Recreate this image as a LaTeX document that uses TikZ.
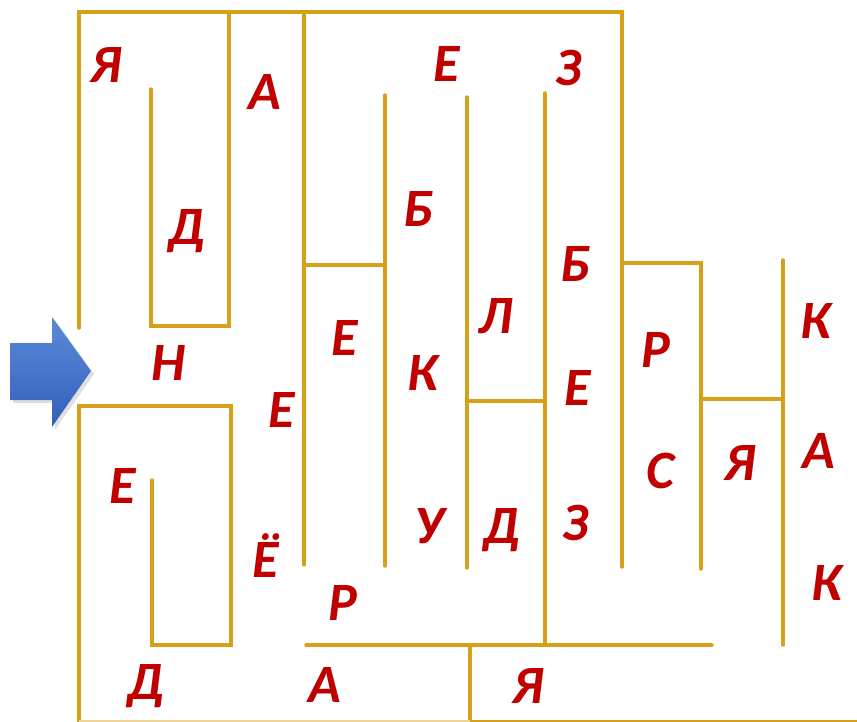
\documentclass[tikz,border=0pt]{standalone}
\usepackage{fontspec}
\setmainfont{Carlito}
\usetikzlibrary{shadows}
\definecolor{mazegold}{RGB}{214,160,24}
\definecolor{letterred}{RGB}{192,0,0}
\definecolor{arrowtop}{RGB}{92,138,216}
\definecolor{arrowbot}{RGB}{50,96,186}
\begin{document}
\begin{tikzpicture}[x=1pt, y=-1pt,
    wall/.style={draw=mazegold, line width=3.4pt, line cap=round, line join=miter},
    letter/.style={text=letterred, anchor=base, inner sep=0pt,
      font=\fontsize{54}{54}\selectfont\bfseries\itshape}]
            \useasboundingbox (0,0) rectangle (857,722);

            % Entrance arrow
            \shade [top color=arrowtop, bottom color=arrowbot,
                    drop shadow={shadow xshift=3pt, shadow yshift=-3pt, opacity=0.25}]
              (10,343) -- (52,343) -- (52,317) -- (91,371) -- (52,427)
              -- (52,400) -- (10,400) -- cycle;

            % Outer frame, upper part
            \draw [wall] (79,328) -- (79,12) -- (622,12) -- (622,567);
            \draw [wall] (229,12) -- (229,326) -- (151,326) -- (151,89);
            \draw [wall] (304,12) -- (304,565);
            \draw [wall] (304,265) -- (385,265);
            \draw [wall] (385,95) -- (385,566);
            \draw [wall] (467,97) -- (467,568);
            \draw [wall] (467,401) -- (545,401);
            \draw [wall] (545,93) -- (545,645);

            % Right part
            \draw [wall] (622,263) -- (701,263) -- (701,569);
            \draw [wall] (701,399) -- (783,399);
            \draw [wall] (783,260) -- (783,645);

            % Lower part
            \draw [wall] (306,645) -- (712,645);
            \draw [wall] (470,645) -- (470,722);
            \draw [wall] (79,722) -- (79,406) -- (231,406) -- (231,645) -- (152,645) -- (152,480);
            \draw [mazegold!45, line width=2pt] (79,721) -- (470,721);
            \draw [mazegold, line width=2pt] (470,721) -- (857,721);

            % Letters
            \node [letter] (ya1) at (106,83) {Я};
            \node [letter] (de1) at (187,245) {Д};
            \node [letter] (a1) at (265,110) {А};
            \node [letter] (n1) at (169,380) {Н};
            \node [letter] (e1) at (282,427) {Е};
            \node [letter] (e2) at (123,503) {Е};
            \node [letter] (yo1) at (266,577) {Ё};
            \node [letter] (de2) at (146,699) {Д};
            \node [letter] (a2) at (325,702) {А};
            \node [letter] (er1) at (343,620) {Р};
            \node [letter] (e3) at (345,355) {Е};
            \node [letter] (be1) at (418,227) {Б};
            \node [letter] (ka1) at (423,390) {К};
            \node [letter] (u1) at (429,543) {У};
            \node [letter] (e4) at (447,82) {Е};
            \node [letter] (el1) at (495,333) {Л};
            \node [letter] (de3) at (502,543) {Д};
            \node [letter] (ya2) at (528,703) {Я};
            \node [letter] (ze1) at (569,86) {З};
            \node [letter] (be2) at (575,282) {Б};
            \node [letter] (e5) at (578,405) {Е};
            \node [letter] (ze2) at (576,540) {З};
            \node [letter] (er2) at (656,367) {Р};
            \node [letter] (es1) at (660,488) {С};
            \node [letter] (ya3) at (740,480) {Я};
            \node [letter] (ka2) at (816,338) {К};
            \node [letter] (a3) at (819,468) {А};
            \node [letter] (ka3) at (827,600) {К};
        \end{tikzpicture}
\end{document}
